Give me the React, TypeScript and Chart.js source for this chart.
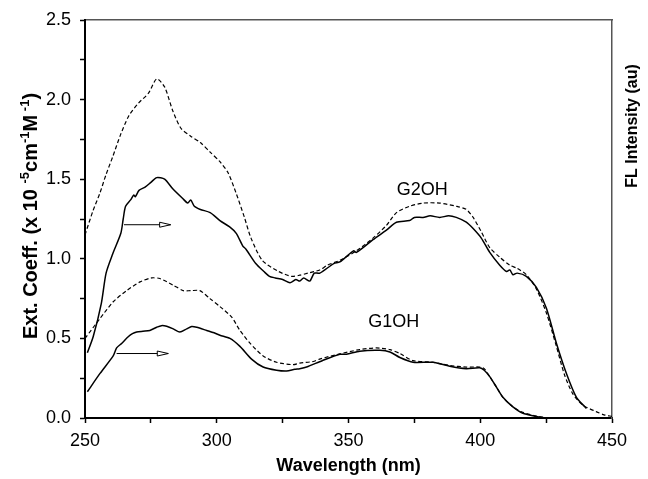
import React, { useEffect, useRef } from 'react';
import { Chart, registerables } from 'chart.js';

Chart.register(...registerables);

// ---------- data ----------
const g2AbsWl = [250, 253, 255.6, 258, 260.5, 263.5, 266.7, 270.4, 274.1, 277.2, 280.2, 283.3, 286.4, 290.1, 293.8, 297.5, 301.2, 304.3, 307.4, 310.5, 313, 317.3, 323.5, 328.4, 331.5, 334.6, 339.1, 342, 346.7, 353, 359.3, 364.4, 368.2, 373.2, 378.3, 384.6, 390.9, 394.7, 397.3, 400.4, 403.6, 407.4, 411.2, 414, 417.5, 421.3, 425.1, 428.9, 432, 435.2, 439, 444, 447, 450];
const g2AbsVal = [1.15, 1.3, 1.41, 1.53, 1.64, 1.78, 1.9, 1.98, 2.04, 2.13, 2.08, 1.93, 1.82, 1.77, 1.73, 1.67, 1.61, 1.54, 1.41, 1.26, 1.13, 0.99, 0.92, 0.89, 0.897, 0.91, 0.93, 0.96, 0.99, 1.05, 1.13, 1.21, 1.29, 1.33, 1.35, 1.35, 1.33, 1.31, 1.26, 1.17, 1.07, 1.01, 0.96, 0.94, 0.9, 0.81, 0.66, 0.45, 0.27, 0.15, 0.08, 0.04, 0.02, 0.01];

const g2FlWl = [250.9, 253.1, 256.2, 258, 260.5, 263.6, 264.5, 265.4, 267.3, 268.5, 269.1, 270.5, 272.8, 275, 277.2, 280.2, 283.3, 287, 289, 290.1, 291.5, 293.8, 297.5, 301.2, 304.9, 307.4, 309.9, 311.1, 314.8, 317.9, 320, 322.2, 325, 327.8, 330, 331.5, 333, 335.3, 337, 339.1, 344.4, 346.7, 351.9, 353, 359.3, 364.4, 368.2, 373.2, 375, 378.3, 381, 384.6, 388, 390.9, 394.7, 397.3, 400.4, 403.6, 407.4, 410, 411.2, 412.4, 414, 417.5, 421.3, 425.1, 428.9, 432.7, 436.5, 440.3];
const g2FlVal = [0.41, 0.51, 0.72, 0.91, 1.03, 1.16, 1.25, 1.33, 1.37, 1.4, 1.39, 1.43, 1.45, 1.48, 1.51, 1.5, 1.44, 1.38, 1.35, 1.37, 1.33, 1.31, 1.29, 1.24, 1.2, 1.16, 1.08, 1.06, 0.97, 0.92, 0.89, 0.88, 0.87, 0.85, 0.87, 0.86, 0.88, 0.86, 0.91, 0.91, 0.97, 0.98, 1.05, 1.04, 1.12, 1.18, 1.23, 1.24, 1.26, 1.26, 1.27, 1.26, 1.27, 1.26, 1.23, 1.19, 1.13, 1.04, 0.96, 0.92, 0.93, 0.9, 0.91, 0.89, 0.82, 0.69, 0.47, 0.28, 0.13, 0.06];

const g1AbsWl = [250, 255.7, 260.7, 265.8, 270.9, 275.3, 278.4, 283.5, 287.3, 290, 293.6, 297.4, 301.2, 305.6, 308.8, 312.6, 317.6, 322.7, 329, 331.5, 336.6, 339, 346, 354.3, 360.6, 365.7, 369.5, 374.5, 382.1, 388.4, 394.7, 399.8, 401.5, 403.6, 406.1, 408.6, 412.4, 416.2, 421.3, 426];
const g1AbsVal = [0.5, 0.625, 0.73, 0.8, 0.855, 0.88, 0.876, 0.834, 0.8, 0.8, 0.8, 0.75, 0.7, 0.635, 0.55, 0.47, 0.39, 0.35, 0.335, 0.345, 0.355, 0.37, 0.4, 0.43, 0.44, 0.43, 0.405, 0.36, 0.35, 0.33, 0.32, 0.32, 0.31, 0.26, 0.195, 0.13, 0.07, 0.035, 0.012, 0];

const g1FlWl = [250.9, 255.7, 260.7, 262, 264, 266.4, 268, 269.6, 272, 274.6, 277.2, 279, 281, 283.5, 286, 288.6, 290.5, 292.4, 296.2, 299, 301.2, 305, 308.8, 313.2, 317.6, 322.7, 326.5, 329.6, 331.5, 334.1, 340, 346.7, 349.2, 354.3, 361.9, 365.7, 369.5, 374.5, 382.1, 388.4, 394.7, 399.8, 401.5, 403.6, 406.1, 408.6, 412.4, 416.2, 421.3, 424];
const g1FlVal = [0.165, 0.28, 0.39, 0.44, 0.47, 0.51, 0.53, 0.54, 0.545, 0.55, 0.57, 0.58, 0.576, 0.56, 0.54, 0.56, 0.575, 0.57, 0.55, 0.535, 0.52, 0.5, 0.45, 0.37, 0.32, 0.3, 0.295, 0.306, 0.31, 0.32, 0.36, 0.4, 0.4, 0.42, 0.425, 0.415, 0.38, 0.35, 0.35, 0.325, 0.31, 0.315, 0.3, 0.26, 0.195, 0.13, 0.07, 0.03, 0.01, 0];

// arrows (tail -> tip, pointing right)
const arrowTailWl = [264.8, 262];
const arrowTipWl = [282.5, 281.6];
const arrowVal = [1.214, 0.405];

// curve labels
const curveNames = ['G2OH', 'G1OH'];
const curveNameWl = [378, 367.2];
const curveNameVal = [1.43, 0.6];

// axes
const xMin = 250, xMax = 450, xStep = 25, xLabelEvery = 50;
const yMin = 0, yMax = 2.5, yStep = 0.25, yLabelEvery = 0.5;
const xTitle = 'Wavelength (nm)';
const yTitleParts: [string, boolean][] = [
  ['Ext. Coeff. (x 10 ', false],
  ['-5', true],
  ['cm', false],
  ['-1', true],
  ['M', false],
  [' -1', true],
  [')', false],
];
const rightTitle = 'FL Intensity (au)';

const FONT = '"Liberation Sans", Arial, Helvetica, sans-serif';

const toPts = (wl: number[], v: number[]) => wl.map((x, i) => ({ x, y: v[i] }));
const isMult = (v: number, m: number) => Math.abs(v / m - Math.round(v / m)) < 1e-6;

export default function App() {
  const ref = useRef<HTMLCanvasElement>(null);

  useEffect(() => {
    const canvas = ref.current;
    if (!canvas) return;

    const extrasPlugin = {
      id: 'extras',
      afterDatasetsDraw(chart: any) {
        const { ctx, scales } = chart;
        const xs = scales.x;
        const ys = scales.y;
        // open arrowheads at the arrow tips
        ctx.save();
        ctx.lineWidth = 1;
        ctx.strokeStyle = '#000';
        ctx.fillStyle = '#fff';
        arrowVal.forEach((v, i) => {
          const px = xs.getPixelForValue(arrowTipWl[i]);
          const py = ys.getPixelForValue(v);
          ctx.beginPath();
          ctx.moveTo(px, py);
          ctx.lineTo(px - 11, py - 2.5);
          ctx.lineTo(px - 11, py + 2.5);
          ctx.closePath();
          ctx.fill();
          ctx.stroke();
        });
        ctx.restore();
      },
      afterDraw(chart: any) {
        const { ctx, scales, chartArea } = chart;
        const xs = scales.x;
        const ys = scales.y;
        ctx.save();
        ctx.fillStyle = '#000';
        // curve names
        ctx.font = `18px ${FONT}`;
        ctx.textAlign = 'center';
        ctx.textBaseline = 'middle';
        curveNames.forEach((n, i) => {
          ctx.fillText(n, xs.getPixelForValue(curveNameWl[i]), ys.getPixelForValue(curveNameVal[i]));
        });
        // right title (reads bottom-to-top)
        ctx.save();
        ctx.translate(chartArea.right + 21, chartArea.top + 106);
        ctx.rotate(-Math.PI / 2);
        ctx.font = `bold 16px ${FONT}`;
        ctx.textAlign = 'center';
        ctx.textBaseline = 'middle';
        ctx.fillText(rightTitle, 0, 0);
        ctx.restore();
        // left title with superscripts
        ctx.save();
        ctx.translate(29, (chartArea.top + chartArea.bottom) / 2 - 3);
        ctx.rotate(-Math.PI / 2);
        ctx.textAlign = 'left';
        ctx.textBaseline = 'alphabetic';
        const mainFont = `bold 20px ${FONT}`;
        const supFont = `bold 13px ${FONT}`;
        let total = 0;
        const widths = yTitleParts.map(([t, sup]) => {
          ctx.font = sup ? supFont : mainFont;
          const w = ctx.measureText(t).width;
          total += w;
          return w;
        });
        let cx = -total / 2;
        yTitleParts.forEach(([t, sup], i) => {
          ctx.font = sup ? supFont : mainFont;
          ctx.fillText(t, cx, sup ? 7.5 - 8 : 7.5);
          cx += widths[i];
        });
        ctx.restore();
        ctx.restore();
      },
    };

    const lineBase = {
      borderColor: '#000',
      pointRadius: 0,
      tension: 0.25,
      fill: false,
    };

    const arrowSets = arrowVal.map((v, i) => ({
      data: [
        { x: arrowTailWl[i], y: v },
        { x: arrowTipWl[i], y: v },
      ],
      borderColor: '#000',
      borderWidth: 1,
      tension: 0,
      pointRadius: 0,
    }));

    const chart = new Chart(canvas, {
      type: 'line',
      data: {
        datasets: [
          { ...lineBase, data: toPts(g2AbsWl, g2AbsVal), borderWidth: 1.2, borderDash: [4, 2.5] },
          { ...lineBase, data: toPts(g2FlWl, g2FlVal), borderWidth: 1.5 },
          { ...lineBase, data: toPts(g1AbsWl, g1AbsVal), borderWidth: 1.2, borderDash: [4, 2.5] },
          { ...lineBase, data: toPts(g1FlWl, g1FlVal), borderWidth: 1.5 },
          ...arrowSets,
        ] as any,
      },
      options: {
        responsive: false,
        animation: false,
        events: [],
        devicePixelRatio: 1,
        layout: { padding: 0 },
        plugins: {
          legend: { display: false },
          tooltip: { enabled: false },
          title: { display: false },
        },
        scales: {
          x: {
            type: 'linear',
            position: 'bottom',
            min: xMin,
            max: xMax,
            ticks: {
              stepSize: xStep,
              autoSkip: false,
              maxRotation: 0,
              color: '#000',
              padding: 7,
              font: { family: FONT, size: 18 },
              callback: (v: any) => (isMult(Number(v), xLabelEvery) ? String(v) : ''),
            },
            grid: { drawOnChartArea: false, tickLength: 5, tickColor: '#000', tickWidth: 1.5 },
            border: { display: true, color: '#000', width: 2 },
            title: {
              display: true,
              text: xTitle,
              color: '#000',
              font: { family: FONT, size: 18, weight: 'bold' },
              padding: { top: 0, bottom: 2 },
            },
            afterFit: (s: any) => {
              s.height = 61;
            },
          },
          xTop: {
            type: 'linear',
            position: 'top',
            min: xMin,
            max: xMax,
            ticks: { display: false },
            grid: { drawOnChartArea: false, drawTicks: false },
            border: { display: true, color: '#555', width: 1.5 },
            afterFit: (s: any) => {
              s.height = 20;
            },
          },
          y: {
            type: 'linear',
            position: 'left',
            min: yMin,
            max: yMax,
            ticks: {
              stepSize: yStep,
              autoSkip: false,
              color: '#000',
              padding: 9,
              font: { family: FONT, size: 18 },
              callback: (v: any) => (isMult(Number(v), yLabelEvery) ? Number(v).toFixed(1) : ''),
            },
            grid: { drawOnChartArea: false, tickLength: 5, tickColor: '#000', tickWidth: 1.5 },
            border: { display: true, color: '#000', width: 2 },
            afterFit: (s: any) => {
              s.width = 85;
            },
          },
          yRight: {
            type: 'linear',
            position: 'right',
            min: yMin,
            max: yMax,
            ticks: { display: false },
            grid: { drawOnChartArea: false, drawTicks: false },
            border: { display: true, color: '#555', width: 1.5 },
            afterFit: (s: any) => {
              s.width = 36;
            },
          },
        },
      } as any,
      plugins: [extrasPlugin],
    });

    return () => chart.destroy();
  }, []);

  return (
    <div style={{ position: 'absolute', left: 0, top: 0, width: 648, height: 479, background: '#fff' }}>
      <canvas ref={ref} width={648} height={479} style={{ display: 'block' }} />
    </div>
  );
}
